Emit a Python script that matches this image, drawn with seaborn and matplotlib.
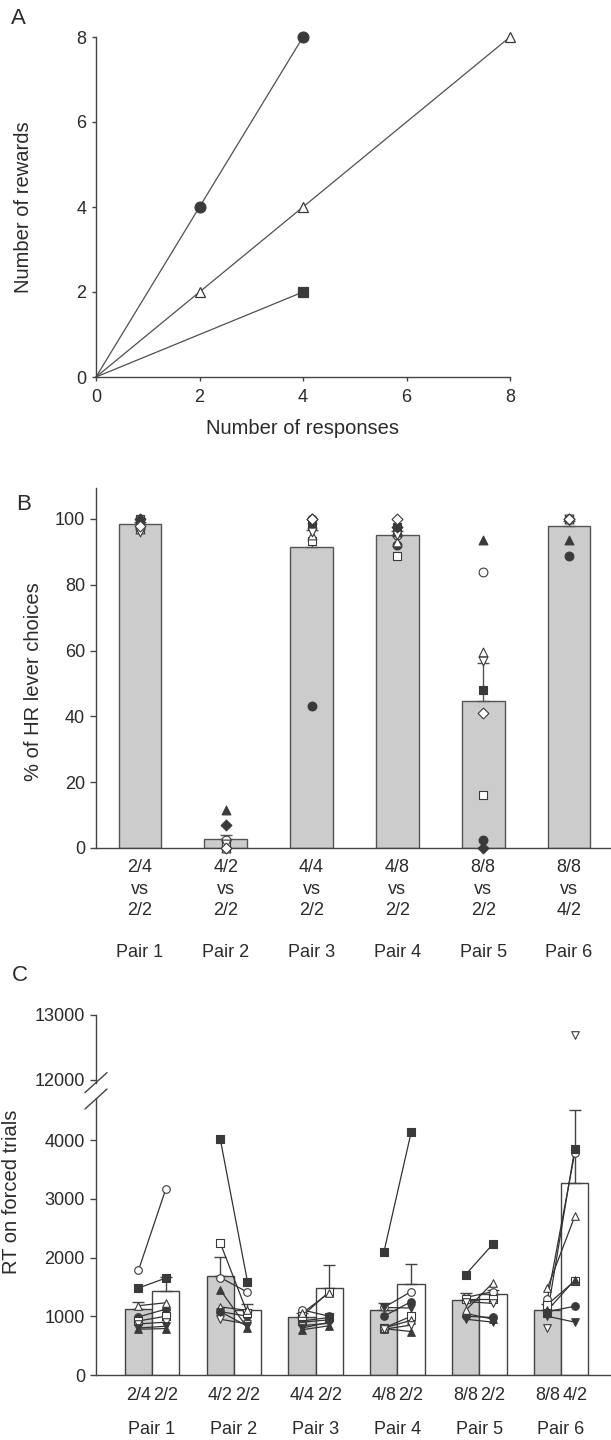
import numpy as np
import pandas as pd
import matplotlib.pyplot as plt
import seaborn as sns
from matplotlib.lines import Line2D

# ---------------- Panel A: reinforcement schedules ----------------
circle_resp = [0, 2, 4]
circle_rew = [0, 4, 8]
triangle_resp = [0, 2, 4, 8]
triangle_rew = [0, 2, 4, 8]
square_resp = [0, 4]
square_rew = [0, 2]

# ---------------- Panel B: % of HR lever choices ----------------
pair_names = ["Pair 1", "Pair 2", "Pair 3", "Pair 4", "Pair 5", "Pair 6"]
b_ticklabels = ["2/4\nvs\n2/2", "4/2\nvs\n2/2", "4/4\nvs\n2/2",
                "4/8\nvs\n2/2", "8/8\nvs\n2/2", "8/8\nvs\n4/2"]
b_mean = [98.5, 2.6, 91.5, 95.0, 44.6, 98.0]
b_sem = [0.6, 1.2, 5.1, 1.3, 11.5, 1.3]

# one list per animal (pairs 1-6)
b_circle_f = [100, 0, 43.2, 92, 2.5, 88.7]
b_circle_o = [97, 2.4, 100, 95, 84, 100]
b_square_f = [100, 0, 98, 97.5, 48, 100]
b_square_o = [100, 1.2, 93.3, 88.7, 16, 100]
b_tri_f = [100, 11.7, 100, 96, 93.5, 93.6]
b_tri_o = [97, 0, 95, 93, 59.5, 100]
b_tridown_o = [96, 1.2, 96, 95, 56.8, 100]
b_diamond_f = [100, 6.9, 100, 97.5, 0, 100]
b_diamond_o = [98, 0, 100, 100, 41, 100]

# ---------------- Panel C: RT on forced trials ----------------
c_labels_first = ["2/4", "4/2", "4/4", "4/8", "8/8", "8/8"]
c_labels_second = ["2/2", "2/2", "2/2", "2/2", "2/2", "4/2"]
c_mean_first = [1130, 1690, 995, 1105, 1270, 1110]
c_mean_second = [1435, 1105, 1480, 1545, 1380, 3275]
c_sem_first = [105, 320, 60, 125, 120, 100]
c_sem_second = [240, 100, 390, 350, 70, 1230]

# (first option, second option) per animal
c_circle_f = ([990, 1080, 900, 1000, 1000, 1080], [1120, 1000, 940, 1250, 980, 1170])
c_circle_o = ([1780, 1660, 1110, 1150, 1320, 1300], [3160, 1410, 1000, 1420, 1420, 3780])
c_square_f = ([1480, 4020, 920, 2090, 1710, 1050], [1650, 1590, 980, 4130, 2230, 3850])
c_square_o = ([920, 2250, 1000, 800, 1300, 1200], [1000, 1050, 1420, 1000, 1300, 1600])
c_tri_f = ([780, 1450, 770, 790, 1050, 1100], [790, 800, 840, 740, 950, 1620])
c_tri_o = ([1180, 1160, 1050, 800, 1100, 1480], [1230, 1100, 1400, 930, 1570, 2700])
c_tridown_o = ([870, 950, 840, 780, 1250, 800], [900, 870, 880, 850, 1220, 12700])
c_tridown_f = ([800, 1080, 800, 1150, 950, 1000], [830, 830, 900, 1140, 900, 900])

DARK = "#3a3a3a"
LINE = "#505050"
EDGE = "#555555"
BAR_GRAY = "#cccccc"
TXT = "#2b2b2b"

sns.set_style("ticks")
plt.rcParams["font.family"] = ["Liberation Sans", "DejaVu Sans"]
plt.rcParams.update({
    "axes.edgecolor": "#444444", "axes.linewidth": 1.0,
    "xtick.color": "#444444", "ytick.color": "#444444",
    "xtick.labelcolor": TXT, "ytick.labelcolor": TXT,
    "xtick.labelsize": 13, "ytick.labelsize": 13,
    "xtick.major.size": 3, "ytick.major.size": 3,
    "xtick.major.width": 1, "ytick.major.width": 1,
    "xtick.direction": "out", "ytick.direction": "out",
    "text.color": TXT,
})

W, H = 611, 1440
fig = plt.figure(figsize=(W / 100, H / 100), dpi=100)


def box(left, top, right, bottom):
    return [left / W, 1 - bottom / H, (right - left) / W, (bottom - top) / H]


axA = fig.add_axes(box(96, 37, 510, 377))
axB = fig.add_axes(box(96, 487.7, 611, 848))
axCt = fig.add_axes(box(96, 1015, 611, 1082.6))
axCb = fig.add_axes(box(96, 1099, 611, 1375))
for a in (axA, axB, axCt, axCb):
    a.set_facecolor("none")

# ---------- A ----------
line_kw = dict(color=LINE, linewidth=0.9, markevery=slice(1, None), markersize=7.8,
               markeredgewidth=0.9, markeredgecolor=DARK, clip_on=False)
sns.lineplot(x=circle_resp, y=circle_rew, marker="o", markerfacecolor=DARK, ax=axA, **line_kw)
sns.lineplot(x=triangle_resp, y=triangle_rew, marker="^", markerfacecolor="white", ax=axA, **line_kw)
sns.lineplot(x=square_resp, y=square_rew, marker="s", markerfacecolor=DARK, ax=axA,
             **{**line_kw, "markersize": 6.5})
axA.set_xlim(0, 8)
axA.set_ylim(0, 8)
axA.set_xticks([0, 2, 4, 6, 8])
axA.set_yticks([0, 2, 4, 6, 8])
axA.tick_params(axis="x", pad=6)
axA.tick_params(axis="y", pad=4)
sns.despine(ax=axA)

# ---------- B ----------
b_df = pd.DataFrame({"pair": pair_names, "pct": b_mean})
sns.barplot(data=b_df, x="pair", y="pct", color=BAR_GRAY, saturation=1, width=0.5,
            edgecolor=EDGE, linewidth=1, errorbar=None, ax=axB)
xb = np.arange(len(pair_names))
axB.errorbar(xb, b_mean, yerr=[np.zeros(len(b_sem)), b_sem], fmt="none",
             ecolor=EDGE, elinewidth=1, capsize=4.3, capthick=1, zorder=2)

b_animals = [
    (b_circle_f, "o", True), (b_circle_o, "o", False),
    (b_square_f, "s", True), (b_square_o, "s", False),
    (b_tri_f, "^", True), (b_tri_o, "^", False),
    (b_tridown_o, "v", False),
    (b_diamond_f, "D", True), (b_diamond_o, "D", False),
]
for vals, m, filled in b_animals:
    size = 30 if m == "D" else 40
    sns.scatterplot(x=xb, y=vals, marker=m, s=size, color=DARK if filled else "white",
                    edgecolor=DARK, linewidth=0.8, ax=axB, zorder=4, clip_on=False,
                    legend=False)
axB.set_xlim(-0.513, 5.49)
axB.set_ylim(0, 109.5)
axB.set_yticks([0, 20, 40, 60, 80, 100])
axB.set_xticks(xb, b_ticklabels)
for lbl in axB.get_xticklabels():
    lbl.set_linespacing(1.35)
axB.tick_params(axis="x", length=0, pad=8)
axB.tick_params(axis="y", length=4, pad=4)
axB.set_xlabel("")
axB.set_ylabel("")
for i, p in enumerate(pair_names):
    axB.text(i, -0.289, p, transform=axB.get_xaxis_transform(), ha="center",
             va="center", fontsize=13)
sns.despine(ax=axB)

# ---------- C ----------
c_df = pd.DataFrame({
    "pair": pair_names * 2,
    "option": ["first"] * 6 + ["second"] * 6,
    "rt": c_mean_first + c_mean_second,
})
sns.barplot(data=c_df, x="pair", y="rt", hue="option",
            palette={"first": BAR_GRAY, "second": "white"}, saturation=1,
            width=0.667, dodge=True, edgecolor="#444444", linewidth=1,
            errorbar=None, legend=False, ax=axCb)
off = 1 / 6
x_first = xb - off
x_second = xb + off
axCb.errorbar(x_first, c_mean_first, yerr=[np.zeros(6), c_sem_first], fmt="none",
              ecolor="#444444", elinewidth=1, capsize=4.3, capthick=1, zorder=2)
axCb.errorbar(x_second, c_mean_second, yerr=[np.zeros(6), c_sem_second], fmt="none",
              ecolor="#444444", elinewidth=1, capsize=4.3, capthick=1, zorder=2)

c_low_top = 4700
c_animals = [
    (c_circle_f, "o", True), (c_circle_o, "o", False),
    (c_square_f, "s", True), (c_square_o, "s", False),
    (c_tri_f, "^", True), (c_tri_o, "^", False),
    (c_tridown_o, "v", False), (c_tridown_f, "v", True),
]
for (first, second), m, filled in c_animals:
    first = np.array(first)
    second = np.array(second)
    for k in range(6):
        if first[k] <= c_low_top and second[k] <= c_low_top:
            axCb.plot([x_first[k], x_second[k]], [first[k], second[k]],
                      color="#333333", linewidth=0.9, zorder=3)
    xs = np.concatenate([x_first, x_second])
    ys = np.concatenate([first, second])
    low = ys <= c_low_top
    face = DARK if filled else "white"
    sns.scatterplot(x=xs[low], y=ys[low], marker=m, s=30, color=face, edgecolor=DARK,
                    linewidth=0.8, ax=axCb, zorder=4, clip_on=False, legend=False)
    if (~low).any():
        sns.scatterplot(x=xs[~low], y=ys[~low], marker=m, s=30, color=face,
                        edgecolor=DARK, linewidth=0.8, ax=axCt, zorder=4,
                        clip_on=False, legend=False)

for a in (axCb, axCt):
    a.set_xlim(-0.685, 5.61)
    a.set_xlabel("")
    a.set_ylabel("")
axCb.set_ylim(0, c_low_top)
axCb.set_yticks([0, 1000, 2000, 3000, 4000])
axCt.set_ylim(11960, 13000)
axCt.set_yticks([12000, 13000])
axCb.set_xticks(np.ravel(np.column_stack([x_first, x_second])),
                [lab for pair in zip(c_labels_first, c_labels_second) for lab in pair])
axCb.tick_params(axis="x", length=0, pad=9)
axCb.tick_params(axis="y", length=4, pad=4)
axCt.tick_params(axis="y", length=4, pad=4)
axCt.tick_params(axis="x", bottom=False, labelbottom=False)
sns.despine(ax=axCb)
sns.despine(ax=axCt, bottom=True)
for i, p in enumerate(pair_names):
    axCb.text(i, -0.199, p, transform=axCb.get_xaxis_transform(), ha="center",
              va="center", fontsize=13)

# axis break marks
dx, dy = 11 / W, 10 / H
for a, top_edge in ((axCt, False), (axCb, True)):
    pos = a.get_position()
    yc = pos.y1 if top_edge else pos.y0
    fig.add_artist(Line2D([pos.x0 - dx, pos.x0 + dx], [yc - dy, yc + dy],
                          color="#444444", linewidth=1))

# labels
fig.text(303 / W, 1 - 428 / H, "Number of responses", ha="center", va="center", fontsize=14.5)
fig.text(24 / W, 1 - 207 / H, "Number of rewards", rotation=90, ha="center", va="center",
         fontsize=14.5)
fig.text(34 / W, 1 - 682 / H, "% of HR lever choices", rotation=90, ha="center",
         va="center", fontsize=14.5)
fig.text(12 / W, 1 - 1192 / H, "RT on forced trials", rotation=90, ha="center",
         va="center", fontsize=14.5)
fig.text(18.5 / W, 1 - 18 / H, "A", ha="center", va="center", fontsize=16)
fig.text(23.4 / W, 1 - 505 / H, "B", ha="center", va="center", fontsize=16)
fig.text(19.5 / W, 1 - 975.5 / H, "C", ha="center", va="center", fontsize=16)

fig.savefig("out.png", dpi=100)
